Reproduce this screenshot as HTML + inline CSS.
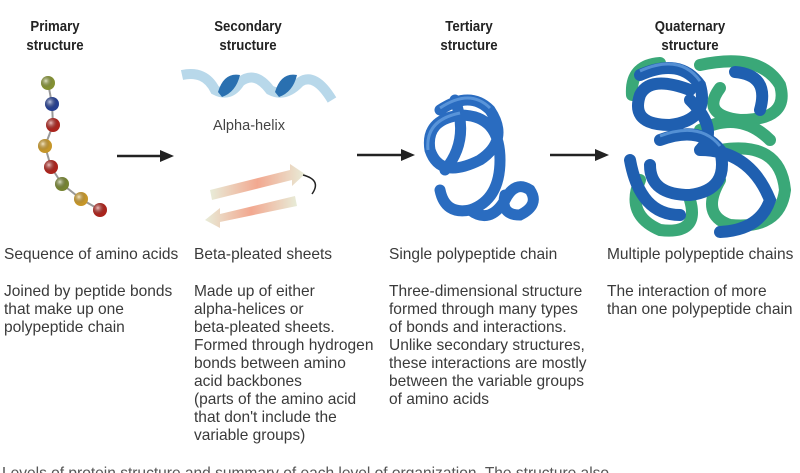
<!DOCTYPE html>
<html><head><meta charset="utf-8"><style>
body{margin:0;width:800px;height:473px;background:#fff;overflow:hidden;position:relative;font-family:"Liberation Sans",sans-serif;color:#333}
.h{position:absolute;font-weight:bold;font-size:15px;line-height:19px;text-align:center;color:#222;transform:scaleX(.88)}
.t{position:absolute;font-size:16px;line-height:18px;color:#3a3a3a;white-space:nowrap;transform-origin:0 0;transform:scaleX(.97)}
</style></head><body>
<div class="h" style="left:10px;top:17px;width:90px">Primary<br>structure</div>
<div class="h" style="left:195px;top:17px;width:106px">Secondary<br>structure</div>
<div class="h" style="left:424px;top:17px;width:90px">Tertiary<br>structure</div>
<div class="h" style="left:640px;top:17px;width:100px">Quaternary<br>structure</div>

<svg width="800" height="473" style="position:absolute;left:0;top:0">
<defs>
<radialGradient id="g" cx=".35" cy=".35"><stop offset="0" stop-color="#fff" stop-opacity=".7"/><stop offset="1" stop-color="#000" stop-opacity=".15"/></radialGradient>
<linearGradient id="bs" x1="0" x2="1"><stop offset="0" stop-color="#e8ecd8"/><stop offset=".5" stop-color="#f2a890"/><stop offset="1" stop-color="#e8ecd8"/></linearGradient>
</defs>
<polyline points="48,83 52,104 53,125 45,146 51,167 62,184 81,199 100,210" fill="none" stroke="#999" stroke-width="2"/>
<g>
<circle cx="48" cy="83" r="7" fill="#9aaa3c"/><circle cx="52" cy="104" r="7" fill="#2c4aa8"/><circle cx="53" cy="125" r="7" fill="#c82a22"/><circle cx="45" cy="146" r="7" fill="#e8b030"/><circle cx="51" cy="167" r="7" fill="#c82a22"/><circle cx="62" cy="184" r="7" fill="#8a9a3a"/><circle cx="81" cy="199" r="7" fill="#e8b030"/><circle cx="100" cy="210" r="7" fill="#c82a22"/>
</g>
<g fill="url(#g)"><circle cx="48" cy="83" r="7"/><circle cx="52" cy="104" r="7"/><circle cx="53" cy="125" r="7"/><circle cx="45" cy="146" r="7"/><circle cx="51" cy="167" r="7"/><circle cx="62" cy="184" r="7"/><circle cx="81" cy="199" r="7"/><circle cx="100" cy="210" r="7"/></g>
<!-- alpha helix -->
<path d="M182,75 Q205,70 215,90 Q230,98 240,82 Q255,70 270,90 Q285,98 300,82 Q315,72 332,100" fill="none" stroke="#b8d8ea" stroke-width="10"/>
<path d="M218,92 Q224,72 240,75 Q236,92 222,97Z M275,92 Q281,72 297,75 Q293,92 279,97Z" fill="#2a70b0"/>
<!-- beta sheet -->
<path d="M210,190 L290,170 L290,164 L305,174 L292,186 L292,180 L212,200Z" fill="url(#bs)"/>
<path d="M295,196 L220,214 L220,208 L205,220 L220,228 L220,222 L297,206Z" fill="url(#bs)"/>
<path d="M303,175 Q322,180 312,194" fill="none" stroke="#222" stroke-width="1.5"/>
<!-- arrows -->
<g stroke="#222" stroke-width="2.5"><line x1="117" y1="156" x2="162" y2="156"/><line x1="357" y1="155" x2="403" y2="155"/><line x1="550" y1="155" x2="597" y2="155"/></g>
<g fill="#222"><path d="M160,150 L174,156 L160,162Z"/><path d="M401,149 L415,155 L401,161Z"/><path d="M595,149 L609,155 L595,161Z"/></g>
<!-- tertiary -->
<g fill="none" stroke="#2a6cc0" stroke-width="11" stroke-linecap="round">
<path d="M440,110 Q470,90 490,110 Q510,140 480,160 Q440,180 430,150 Q425,120 460,115 Q500,115 500,160 Q500,200 470,210 Q445,215 440,190"/>
<path d="M470,210 Q490,225 505,200 Q515,180 530,190 Q540,205 520,215 Q500,215 505,195"/>
<path d="M455,100 Q470,140 445,170"/>
</g>
<g fill="none" stroke="#6ea6e4" stroke-width="3" opacity=".7">
<path d="M440,108 Q470,88 490,108"/><path d="M428,150 Q425,120 460,113"/></g>
<!-- quaternary -->
<g fill="none" stroke-width="12" stroke-linecap="round">
<path stroke="#3aa878" d="M700,65 Q760,52 780,85 Q790,120 740,120 Q700,115 720,88 M720,150 Q780,140 785,190 Q780,230 730,225 Q700,215 720,180"/>
<path stroke="#3aa878" d="M640,180 Q625,215 660,230 Q700,235 690,200 M632,95 Q630,65 660,63 M700,130 Q740,110 770,140"/>
<path stroke="#1f5fb0" d="M640,75 Q680,57 700,85 Q710,120 670,125 Q630,125 640,95 Q650,75 690,90 M660,140 Q700,125 720,150 Q730,190 690,195 Q650,195 650,165 M735,72 Q770,75 760,110 M700,150 Q750,150 770,200 Q760,230 720,232 M630,160 Q640,215 680,215 M690,100 Q720,130 700,150"/>
</g>
<g fill="none" stroke="#78b0ec" stroke-width="3" opacity=".6"><path d="M640,71 Q680,53 700,81"/><path d="M660,136 Q700,121 720,146"/></g>
</svg>

<div class="t" style="left:213px;top:117px;font-size:15px;color:#444">Alpha-helix</div>

<div class="t" style="left:4px;top:246px">Sequence of amino acids</div>
<div class="t" style="left:194px;top:246px">Beta-pleated sheets</div>
<div class="t" style="left:389px;top:246px">Single polypeptide chain</div>
<div class="t" style="left:607px;top:246px">Multiple polypeptide chains</div>

<div class="t" style="left:4px;top:283px">Joined by peptide bonds<br>that make up one<br>polypeptide chain</div>
<div class="t" style="left:194px;top:283px">Made up of either<br>alpha-helices or<br>beta-pleated sheets.<br>Formed through hydrogen<br>bonds between amino<br>acid backbones<br>(parts of the amino acid<br>that don't include the<br>variable groups)</div>
<div class="t" style="left:389px;top:283px">Three-dimensional structure<br>formed through many types<br>of bonds and interactions.<br>Unlike secondary structures,<br>these interactions are mostly<br>between the variable groups<br>of amino acids</div>
<div class="t" style="left:607px;top:283px">The interaction of more<br>than one polypeptide chain</div>
<div class="t" style="left:2px;top:465px;height:8px;overflow:hidden;color:#555">Levels of protein structure and summary of each level of organization. The structure also</div>
</body></html>
